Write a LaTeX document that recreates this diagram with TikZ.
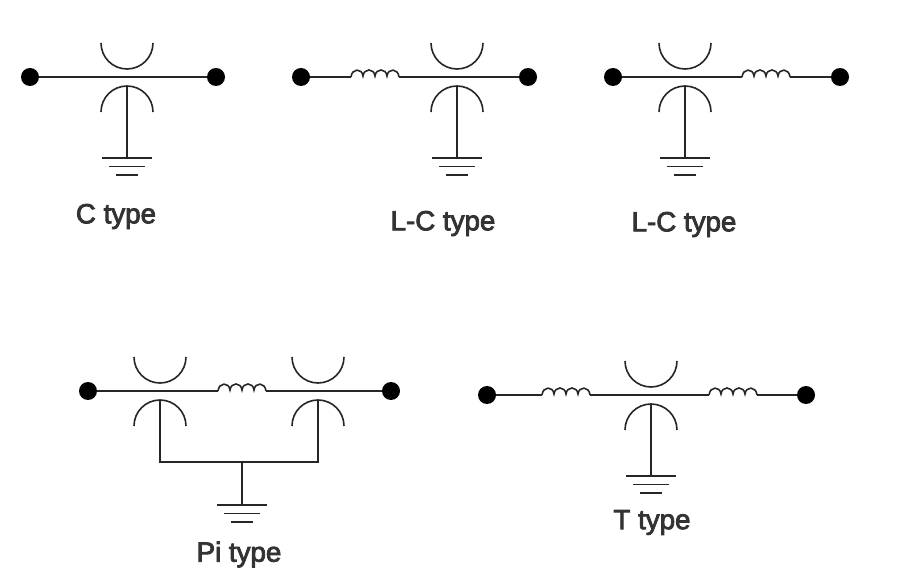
\documentclass[tikz,border=0pt]{standalone}
\usepackage{fontspec}
\setmainfont{Liberation Sans}
\newcommand{\heavy}[1]{\special{pdf:code q 2 Tr 0.6 w 0.2 G}#1\special{pdf:code Q 0 Tr}}
\tikzset{
  wire/.style={line width=1.8pt*0.75,draw=black!85},
  thin wire/.style={line width=1.6pt*0.75,draw=black!85},
  term/.style={circle,fill=black,draw=none,minimum size=13.5pt,inner sep=0pt},
  lab/.style={font=\fontsize{20.8pt}{24pt}\selectfont,text=black!80,inner sep=0pt},
}
% #1 prefix, #2 cx, #3 line y
\newcommand{\capplates}[3]{%
  \draw[thin wire] (#2-26,#3-34) arc[start angle=180,end angle=0,radius=26];
  \draw[thin wire] (#2-26,#3+35) arc[start angle=180,end angle=360,radius=26];
}
\newcommand{\gnd}[3]{%
  \coordinate (#1) at (#2,#3);
  \draw[thin wire] (#2-25,#3) -- (#2+25,#3);
  \draw[thin wire] (#2-18,#3+8.5) -- (#2+18,#3+8.5);
  \draw[thin wire] (#2-11,#3+17) -- (#2+11,#3+17);
}
% #1 name, #2 left x, #3 y : four bumps, 48 px long
\newcommand{\coil}[3]{%
  \coordinate (#1a) at (#2,#3);
  \coordinate (#1b) at (#2+48,#3);
  \draw[thin wire] (#1a) .. controls (#2+1,#3-9) and (#2+11,#3-9) .. (#2+12,#3-1)
    .. controls (#2+13,#3-9) and (#2+23,#3-9) .. (#2+24,#3-1)
    .. controls (#2+25,#3-9) and (#2+35,#3-9) .. (#2+36,#3-1)
    .. controls (#2+37,#3-9) and (#2+47,#3-9) .. (#1b);
}
\begin{document}
\begin{tikzpicture}[x=0.75pt,y=-0.75pt]
\useasboundingbox (0,0) rectangle (900,577);
% C type
\node[term] (a1) at (30,77) {};
\node[term] (a2) at (216,77) {};
\draw[wire] (a1) -- (a2);
\capplates{a}{127}{77}
\gnd{ag}{127}{158}
\coordinate (at) at (127,86);
\draw[thin wire] (at) -- (ag);
\node[lab] (al) at (116,216.5) {\heavy{C type}};
% L-C left
\node[term] (b1) at (301,77) {};
\node[term] (b2) at (528,77) {};
\coil{bc}{351}{77}
\draw[wire] (b1) -- (bca);
\draw[wire] (bcb) -- (b2);
\capplates{b}{457}{77}
\gnd{bg}{457}{158}
\coordinate (bt) at (457,86);
\draw[thin wire] (bt) -- (bg);
\node[lab] (bl) at (443,223.5) {\heavy{L-C type}};
% L-C right
\node[term] (c1) at (613,77) {};
\node[term] (c2) at (840,77) {};
\coil{cc}{742}{77}
\draw[wire] (c1) -- (cca);
\draw[wire] (ccb) -- (c2);
\capplates{c}{685}{77}
\gnd{cg}{685}{158}
\coordinate (ct) at (685,86);
\draw[thin wire] (ct) -- (cg);
\node[lab] (cl) at (684,224.5) {\heavy{L-C type}};
% Pi
\node[term] (d1) at (88,391) {};
\node[term] (d2) at (391,391) {};
\coil{dc}{218}{391}
\draw[wire] (d1) -- (dca);
\draw[wire] (dcb) -- (d2);
\capplates{d}{160}{391}
\capplates{e}{318}{391}
\gnd{dg}{242}{505}
\coordinate (dj) at (242,462);
\coordinate (dt) at (160,400);
\coordinate (et) at (318,400);
\draw[thin wire] (dt) |- (dj) -| (et);
\draw[thin wire] (dj) -- (dg);
\node[lab] (dl) at (239,554.5) {\heavy{Pi type}};
% T
\node[term] (f1) at (487,395) {};
\node[term] (f2) at (806,395) {};
\coil{fc}{542}{395}
\coil{gc}{709}{395}
\draw[wire] (f1) -- (fca);
\draw[wire] (fcb) -- (gca);
\draw[wire] (gcb) -- (f2);
\capplates{f}{651}{395}
\gnd{fg}{651}{476}
\coordinate (ft) at (651,404);
\draw[thin wire] (ft) -- (fg);
\node[lab] (fl) at (652,522.5) {\heavy{T type}};
\end{tikzpicture}
\end{document}
